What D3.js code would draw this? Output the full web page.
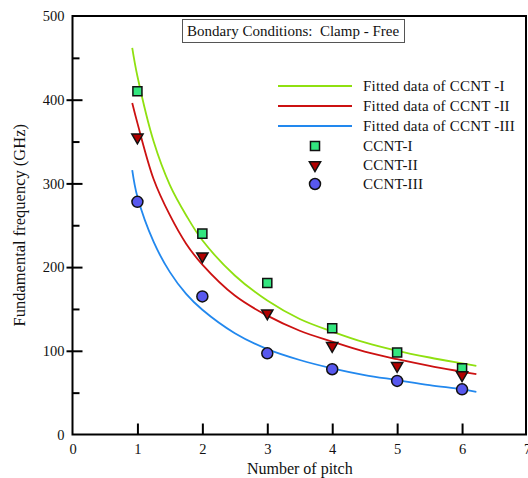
<!DOCTYPE html>
<html>
<head>
<meta charset="utf-8">
<script src="https://cdn.jsdelivr.net/npm/d3@7"></script>
<style>
  body { margin: 0; background: #fff; }
  svg { display: block; }
</style>
</head>
<body>
<div id="container"></div>
<script>
// data
const pitch = [1, 2, 3, 4, 5, 6];
const ccnt1 = [410, 240, 181, 127, 98, 79];
const ccnt2 = [355, 213, 145, 106, 82, 71];
const ccnt3 = [278, 165, 97, 78, 64, 54];

// fitted curves
const fitX  = [0.92, 1, 1.25, 1.5, 1.75, 2, 2.5, 3, 3.5, 4, 4.5, 5, 5.5, 6, 6.22];
const fit1  = [462, 428, 350, 298, 262, 232, 190, 160, 138, 123, 110, 100, 92, 85, 82];
const fit2  = [396, 372, 305, 262, 228, 203, 166, 142, 124, 111, 99, 90, 82, 75, 72];
const fit3  = [316, 284, 230, 194, 168, 149, 121, 102, 89, 79, 71, 65, 59, 54, 51];

const xTicks = [0, 1, 2, 3, 4, 5, 6, 7];
const yTicks = [0, 100, 200, 300, 400, 500];
const yMinor = [50, 150, 250, 350, 450];

const titleText = "Bondary Conditions:  Clamp - Free";
const xTitle = "Number of pitch";
const yTitle = "Fundamental frequency (GHz)";

// layout
const width = 528, height = 478;
const plotLeft = 72.5, plotRight = 527, plotTop = 16, plotBottom = 434.5;
const fontFamily = "'Liberation Serif', 'Times New Roman', serif";

const lineColors = ["#8fe010", "#cc1111", "#2288ee"];
const fitNames = ["Fitted data of CCNT -I", "Fitted data of CCNT -II", "Fitted data of CCNT -III"];
const pointNames = ["CCNT-I", "CCNT-II", "CCNT-III"];

const x = d3.scaleLinear().domain([0, 7]).range([plotLeft, plotRight]);
const y = d3.scaleLinear().domain([0, 500]).range([plotBottom, plotTop]);

const svg = d3.select("#container").append("svg")
    .attr("width", width)
    .attr("height", height)
    .attr("font-family", fontFamily);

// axes
function styleAxis(g) {
    g.select(".domain").remove();
    g.selectAll(".tick line").attr("stroke", "#000").attr("stroke-width", 2);
    g.selectAll(".tick text").attr("fill", "#111").attr("font-size", 14.5).attr("font-family", fontFamily);
}

svg.append("g")
    .attr("transform", `translate(0,${plotBottom})`)
    .call(d3.axisBottom(x).tickValues(xTicks).tickSizeInner(-11).tickSizeOuter(0).tickPadding(5).tickFormat(d3.format("d")))
    .call(styleAxis)
    .call(g => g.selectAll(".tick text").attr("dy", "1.0em"))
    .call(g => g.selectAll(".tick").filter(d => d == 0 || d == 7).select("line").remove());

svg.append("g")
    .attr("transform", `translate(${plotLeft},0)`)
    .call(d3.axisLeft(y).tickValues(yTicks).tickSizeInner(6).tickSizeOuter(0).tickPadding(2).tickFormat(d3.format("d")))
    .call(styleAxis)
    .call(g => g.selectAll(".tick").filter(d => d == 0 || d == 500).select("line").remove());

svg.append("g")
    .attr("transform", `translate(${plotLeft},0)`)
    .call(d3.axisLeft(y).tickValues(yTicks.filter(d => d > 0 && d < 500)).tickSizeInner(-10).tickSizeOuter(0).tickFormat(""))
    .call(styleAxis);

svg.append("g")
    .attr("transform", `translate(${plotLeft},0)`)
    .call(d3.axisLeft(y).tickValues(yMinor).tickSizeInner(-7).tickSizeOuter(0).tickFormat(""))
    .call(styleAxis);

// frame
svg.append("rect")
    .attr("x", plotLeft)
    .attr("y", plotTop)
    .attr("width", plotRight - plotLeft - 1)
    .attr("height", plotBottom - plotTop)
    .attr("fill", "none")
    .attr("stroke", "#000")
    .attr("stroke-width", 2);

// fitted lines
const line = d3.line()
    .x(d => x(d[0]))
    .y(d => y(d[1]))
    .curve(d3.curveCatmullRom.alpha(0.5));

[fit1, fit2, fit3].forEach((f, i) => {
    svg.append("path")
        .datum(fitX.map((p, j) => [p, f[j]]))
        .attr("d", line)
        .attr("fill", "none")
        .attr("stroke", lineColors[i])
        .attr("stroke-width", 1.8);
});

// markers
const sym = [
    { type: d3.symbolSquare, size: 82, fill: "#33e67f" },
    { type: d3.symbolTriangle, size: 55, fill: "#b00000", rotate: 180 },
    { type: d3.symbolCircle, size: 95, fill: "#5858ee" }
];

function drawMarker(g, s) {
    g.append("path")
        .attr("d", d3.symbol().type(s.type).size(s.size))
        .attr("transform", s.rotate ? `rotate(${s.rotate})` : null)
        .attr("fill", s.fill)
        .attr("stroke", "#111")
        .attr("stroke-width", 1.5);
}

[ccnt1, ccnt2, ccnt3].forEach((vals, i) => {
    svg.append("g").selectAll("g")
        .data(pitch.map((p, j) => [p, vals[j]]))
        .join("g")
        .attr("transform", d => `translate(${x(d[0])},${y(d[1])})`)
        .each(function () { drawMarker(d3.select(this), sym[i]); });
});

// title box
svg.append("rect")
    .attr("x", 182.5).attr("y", 19.5)
    .attr("width", 222).attr("height", 23)
    .attr("fill", "#fff")
    .attr("stroke", "#555")
    .attr("stroke-width", 1);

svg.append("text")
    .attr("x", 187).attr("y", 36)
    .attr("font-size", 15)
    .attr("fill", "#111")
    .style("white-space", "pre")
    .text(titleText);

// legend
const legendRows = [86, 106, 126, 146, 165, 184];
const lg = svg.append("g");

fitNames.forEach((n, i) => {
    lg.append("line")
        .attr("x1", 278).attr("x2", 352)
        .attr("y1", legendRows[i]).attr("y2", legendRows[i])
        .attr("stroke", lineColors[i])
        .attr("stroke-width", 2);
    lg.append("text")
        .attr("x", 363).attr("y", legendRows[i])
        .attr("dy", "0.35em")
        .attr("font-size", 15)
        .attr("letter-spacing", 0.2)
        .attr("fill", "#111")
        .text(n);
});

pointNames.forEach((n, i) => {
    const g = lg.append("g").attr("transform", `translate(315,${legendRows[i + 3]})`);
    drawMarker(g, sym[i]);
    lg.append("text")
        .attr("x", 363).attr("y", legendRows[i + 3])
        .attr("dy", "0.35em")
        .attr("font-size", 15)
        .attr("letter-spacing", 0.2)
        .attr("fill", "#111")
        .text(n);
});

// axis titles
svg.append("text")
    .attr("x", (plotLeft + plotRight) / 2)
    .attr("y", 474)
    .attr("text-anchor", "middle")
    .attr("font-size", 16)
    .attr("fill", "#111")
    .text(xTitle);

svg.append("text")
    .attr("transform", `translate(25,${(plotTop + plotBottom) / 2}) rotate(-90)`)
    .attr("text-anchor", "middle")
    .attr("font-size", 16.5)
    .attr("fill", "#111")
    .text(yTitle);
</script>
</body>
</html>
